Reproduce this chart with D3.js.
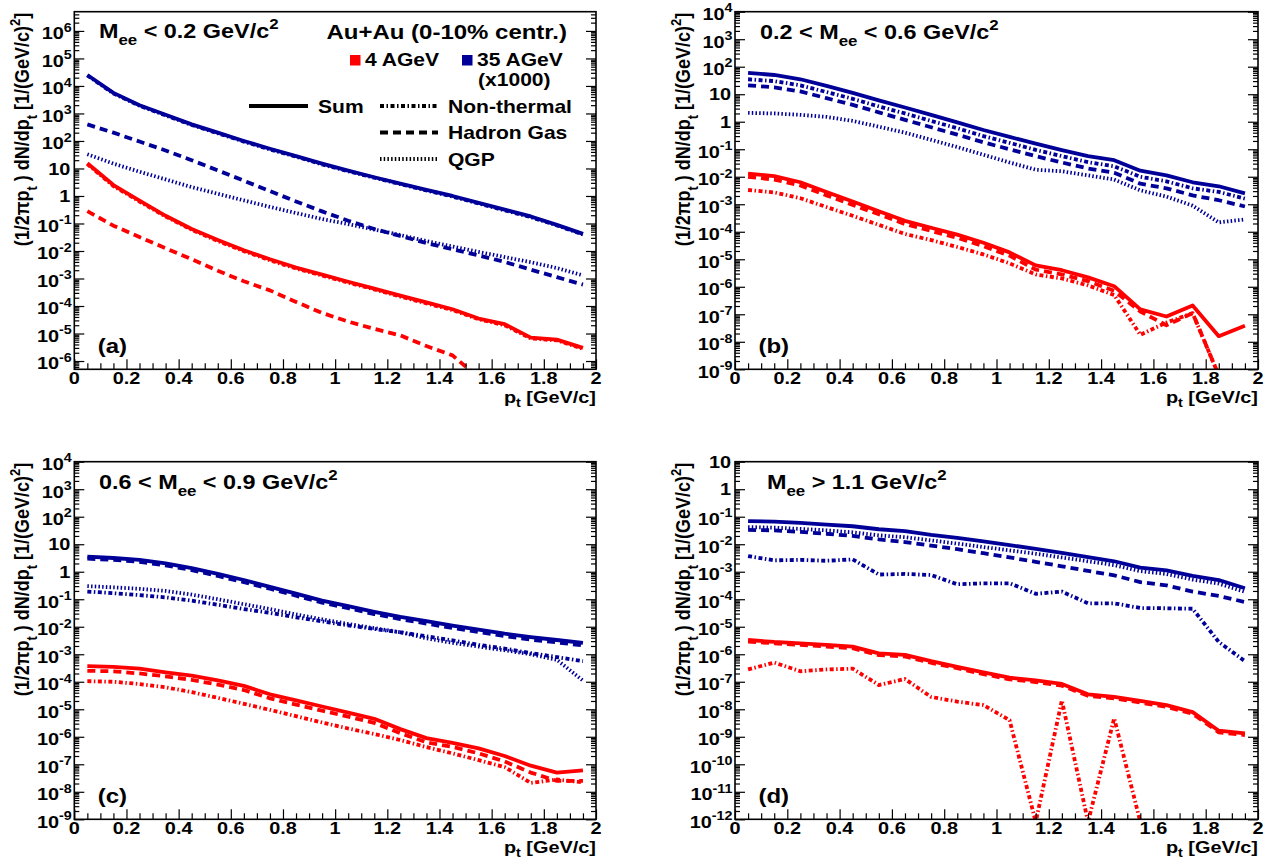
<!DOCTYPE html>
<html><head><meta charset="utf-8">
<script src="https://cdn.jsdelivr.net/npm/d3@7"></script>
<style>
body{margin:0;background:#fff}
svg{display:block;background:#fff}
text{font-family:"Liberation Sans",Arial,Helvetica,sans-serif;font-weight:bold;fill:#000}
</style></head><body>
<svg id="c" width="1264" height="861"></svg>
<script>
// ---------------- data (bin centres in GeV/c) ----------------
const pt = [0.05,0.15,0.25,0.35,0.45,0.55,0.65,0.75,0.85,0.95,1.05,1.15,1.25,1.35,1.45,1.55,1.65,1.75,1.85,1.95];

// (a) Mee < 0.2
const aBlueSum  = [2.5e4,5.6e3,2.0e3,890,400,200,100,52,28,15,8.3,4.8,2.8,1.66,1.0,0.56,0.32,0.18,0.089,0.042];
const aBlueNonTh= [2.4e4,5.3e3,1.9e3,850,380,190,95,49,27,14,7.9,4.6,2.7,1.58,0.95,0.53,0.30,0.17,0.085,0.040];
const aBlueHG   = [400,200,95,45,20,8.5,3.6,1.5,0.63,0.275,0.126,0.063,0.035,0.0195,0.0115,6.9e-3,4.0e-3,2.1e-3,1.12e-3,6.0e-4];
const aBlueQGP  = [33,15,7.6,4.0,2.1,1.2,0.69,0.40,0.24,0.145,0.095,0.06,0.038,0.023,0.0145,9.3e-3,6.0e-3,3.9e-3,2.4e-3,1.3e-3];
const aRedSum   = [15.5,2.5,0.68,0.19,0.063,0.025,0.0107,5.0e-3,2.5e-3,1.38e-3,7.6e-4,4.3e-4,2.4e-4,1.35e-4,7.6e-5,3.5e-5,2.2e-5,7.1e-6,6.0e-6,3.0e-6];
const aRedNonTh = [14.4,2.3,0.63,0.18,0.059,0.023,0.0099,4.6e-3,2.3e-3,1.28e-3,7.1e-4,4.0e-4,2.2e-4,1.25e-4,7.1e-5,3.3e-5,2.0e-5,6.6e-6,5.6e-6,2.8e-6];
const aRedHG    = [0.28,0.083,0.032,0.0126,5.0e-3,1.9e-3,7.9e-4,3.7e-4,1.41e-4,5.6e-5,2.7e-5,1.48e-5,8.5e-6,3.5e-6,1.6e-6,2.5e-7,null,null,null,null];

// (b) 0.2 < Mee < 0.6
const bBlueSum  = [60,50,35,20,11.2,6.0,3.3,1.78,0.95,0.5,0.28,0.16,0.093,0.056,0.04,0.0166,0.0112,6.3e-3,4.5e-3,2.5e-3];
const bBlueNonTh= [35,30,21,12,6.8,3.6,2.0,1.07,0.58,0.30,0.17,0.095,0.056,0.034,0.024,0.010,6.8e-3,3.8e-3,2.8e-3,1.6e-3];
const bBlueHG   = [21,17.8,12.6,7.2,4.1,2.2,1.17,0.63,0.34,0.178,0.10,0.056,0.033,0.020,0.014,5.6e-3,3.8e-3,2.1e-3,1.4e-3,8.3e-4];
const bBlueQGP  = [2.1,2.0,1.78,1.5,1.07,0.66,0.40,0.22,0.12,0.063,0.033,0.018,0.0158,0.0112,7.9e-3,3.2e-3,1.9e-3,8.9e-4,2.2e-4,2.8e-4];
const bRedSum   = [1.3e-2,1.05e-2,6.3e-3,2.8e-3,1.26e-3,5.6e-4,2.5e-4,1.4e-4,7.9e-5,4.0e-5,1.78e-5,6.0e-6,4.0e-6,2.2e-6,1.05e-6,1.5e-7,8.3e-8,2.1e-7,1.6e-8,3.8e-8];
const bRedNonTh = [3.3e-3,2.7e-3,1.66e-3,7.9e-4,3.8e-4,1.78e-4,8.3e-5,5.0e-5,2.8e-5,1.5e-5,7.1e-6,2.8e-6,2.0e-6,1.12e-6,5.0e-7,1.8e-8,5.0e-8,1.1e-7,6e-10,null];
const bRedHG    = [1.0e-2,7.9e-3,4.8e-3,2.1e-3,9.5e-4,4.3e-4,1.9e-4,1.07e-4,6.0e-5,3.0e-5,1.35e-5,4.2e-6,2.8e-6,1.6e-6,7.1e-7,1.26e-7,4.0e-8,1.1e-7,6e-10,null];

// (c) 0.6 < Mee < 0.9
const cBlueSum  = [3.55,3.16,2.7,2.0,1.35,0.83,0.5,0.28,0.16,0.089,0.056,0.035,0.023,0.016,0.011,7.9e-3,5.6e-3,4.2e-3,3.3e-3,2.6e-3];
const cBlueHG   = [3.0,2.7,2.3,1.7,1.15,0.70,0.42,0.24,0.135,0.075,0.047,0.029,0.019,0.013,9.0e-3,6.5e-3,4.6e-3,3.4e-3,2.7e-3,2.1e-3];
const cBlueQGP  = [0.30,0.27,0.24,0.20,0.148,0.10,0.066,0.044,0.028,0.0186,0.0126,8.9e-3,6.3e-3,3.8e-3,2.6e-3,1.9e-3,1.4e-3,1.0e-3,6.3e-4,1.1e-4];
const cBlueNonTh= [0.19,0.166,0.141,0.117,0.089,0.063,0.044,0.032,0.022,0.0158,0.0112,8.3e-3,6.3e-3,4.5e-3,3.2e-3,2.2e-3,1.6e-3,1.1e-3,7.9e-4,5.6e-4];
const cRedSum   = [3.7e-4,3.5e-4,3.0e-4,2.2e-4,1.66e-4,1.12e-4,7.1e-5,3.5e-5,2.1e-5,1.26e-5,7.6e-6,4.5e-6,1.9e-6,8.9e-7,6.0e-7,3.8e-7,2.0e-7,8.9e-8,5.0e-8,6.0e-8];
const cRedHG    = [2.5e-4,2.4e-4,2.0e-4,1.58e-4,1.17e-4,7.9e-5,5.0e-5,2.5e-5,1.48e-5,8.9e-6,5.4e-6,3.2e-6,1.35e-6,6.3e-7,4.3e-7,2.5e-7,1.26e-7,5.0e-8,2.5e-8,2.5e-8];
const cRedNonTh = [1.05e-4,1.0e-4,8.3e-5,6.3e-5,4.2e-5,2.6e-5,1.58e-5,9.5e-6,5.6e-6,3.3e-6,2.0e-6,1.26e-6,7.6e-7,4.2e-7,2.5e-7,1.41e-7,7.9e-8,2.1e-8,2.8e-8,2.2e-8];

// (d) Mee > 1.1
const dBlueSum  = [0.069,0.066,0.060,0.052,0.045,0.035,0.030,0.022,0.017,0.0126,9.3e-3,6.8e-3,4.8e-3,3.4e-3,2.4e-3,1.41e-3,1.12e-3,7.1e-4,5.0e-4,2.5e-4];
const dBlueQGP  = [0.042,0.040,0.036,0.032,0.027,0.021,0.018,0.0138,0.0105,7.9e-3,6.0e-3,4.5e-3,3.3e-3,2.4e-3,1.74e-3,1.05e-3,8.3e-4,5.2e-4,3.7e-4,1.86e-4];
const dBlueHG   = [0.033,0.032,0.028,0.024,0.020,0.015,0.012,8.9e-3,6.6e-3,4.7e-3,3.3e-3,2.3e-3,1.58e-3,1.07e-3,7.4e-4,4.2e-4,3.2e-4,1.9e-4,1.32e-4,7.9e-5];
const dBlueNonTh= [3.7e-3,2.6e-3,2.7e-3,2.5e-3,2.8e-3,7.9e-4,8.3e-4,7.6e-4,3.5e-4,3.8e-4,3.8e-4,1.58e-4,1.9e-4,7.1e-5,7.1e-5,4.8e-5,4.7e-5,4.5e-5,2.8e-6,5.6e-7];
const dRedSum   = [3.3e-6,2.8e-6,2.5e-6,2.2e-6,1.9e-6,1.07e-6,9.5e-7,5.6e-7,3.5e-7,2.2e-7,1.41e-7,1.12e-7,8.3e-8,3.5e-8,2.8e-8,2.0e-8,1.41e-8,7.9e-9,1.66e-9,1.32e-9];
const dRedHG    = [2.9e-6,2.5e-6,2.2e-6,1.9e-6,1.65e-6,9.3e-7,8.3e-7,4.9e-7,3.1e-7,1.9e-7,1.23e-7,9.8e-8,7.2e-8,3.1e-8,2.5e-8,1.75e-8,1.23e-8,6.9e-9,1.45e-9,1.15e-9];
const dRedNonTh = [2.8e-7,5.0e-7,2.4e-7,2.8e-7,3.0e-7,7.6e-8,1.26e-7,2.8e-8,1.9e-8,1.41e-8,4.0e-9,8e-13,2.1e-8,8e-13,4.7e-9,8e-13,null,null,null,null];

const xTicks = [0,0.2,0.4,0.6,0.8,1,1.2,1.4,1.6,1.8,2];
const xTickLabels = ["0","0.2","0.4","0.6","0.8","1","1.2","1.4","1.6","1.8","2"];
const legendComponents = ["Sum","Non-thermal","Hadron Gas","QGP"];
const legendEnergies = ["4 AGeV","35 AGeV"];

// ---------------- style ----------------
const RED = "#ff0000", BLUE = "#000099";
const LW = 3.8;
const SX = 1.17;   // horizontal stretch of the lettering
const DASH = {sum:null, nonth:"4 2.5 1.5 2.5", hg:"8 5", qgp:"1.5 2.2"};

const svg = d3.select("#c");

function rich(sel, parts, size, subShift){
  let cur = 0;
  const ss = subShift || 0.36;
  parts.forEach(p => {
    const t = typeof p === "string" ? p : p[0];
    const m = typeof p === "string" ? 0 : (p[1]||0);
    const fs = m ? size*0.72 : size;
    const target = m===1 ? size*ss : (m===2 ? -size*0.45 : 0);
    sel.append("tspan").attr("dy", (target-cur).toFixed(2)).attr("font-size", fs).text(t);
    cur = target;
  });
  return sel;
}
function label(x,y,parts,size,anchor,subShift){
  const t = svg.append("text").attr("transform",`translate(${x},${y}) scale(${SX},1)`)
    .attr("text-anchor",anchor||"start").attr("font-size",size);
  return rich(t, parts, size, subShift);
}

const panels = [
  {tag:"(a)", x0:74.3, x1:596, y0:11.7, y1:369.3, ymin:5e-7, ymax:5e6,
   title:[["M"],["ee",1],[" < 0.2 GeV/c"],["2",2]], tx:99, ty:37.5,
   lines:[
     [aBlueSum,BLUE,"sum"],[aBlueNonTh,BLUE,"nonth"],[aBlueHG,BLUE,"hg"],[aBlueQGP,BLUE,"qgp"],
     [aRedSum,RED,"sum"],[aRedNonTh,RED,"nonth"],[aRedHG,RED,"hg"]]},
  {tag:"(b)", x0:735, x1:1258, y0:11.7, y1:369.3, ymin:1e-9, ymax:1e4,
   title:[["0.2 < M"],["ee",1],[" < 0.6 GeV/c"],["2",2]], tx:760, ty:38.5,
   lines:[
     [bBlueSum,BLUE,"sum"],[bBlueNonTh,BLUE,"nonth"],[bBlueHG,BLUE,"hg"],[bBlueQGP,BLUE,"qgp"],
     [bRedSum,RED,"sum"],[bRedNonTh,RED,"nonth"],[bRedHG,RED,"hg"]]},
  {tag:"(c)", x0:74.3, x1:596, y0:461.7, y1:819.3, ymin:1e-9, ymax:1e4,
   title:[["0.6 < M"],["ee",1],[" < 0.9 GeV/c"],["2",2]], tx:99, ty:489,
   lines:[
     [cBlueSum,BLUE,"sum"],[cBlueHG,BLUE,"hg"],[cBlueQGP,BLUE,"qgp"],[cBlueNonTh,BLUE,"nonth"],
     [cRedSum,RED,"sum"],[cRedHG,RED,"hg"],[cRedNonTh,RED,"nonth"]]},
  {tag:"(d)", x0:735, x1:1258, y0:461.7, y1:819.3, ymin:1e-12, ymax:10,
   title:[["M"],["ee",1],[" > 1.1 GeV/c"],["2",2]], tx:767, ty:489,
   lines:[
     [dBlueSum,BLUE,"sum"],[dBlueQGP,BLUE,"qgp"],[dBlueHG,BLUE,"hg"],[dBlueNonTh,BLUE,"nonth"],
     [dRedSum,RED,"sum"],[dRedHG,RED,"hg"],[dRedNonTh,RED,"nonth"]]}
];

const TICK_FS = 17;

panels.forEach((P,i) => {
  const x = d3.scaleLinear().domain([0,2]).range([P.x0,P.x1]);
  const y = d3.scaleLog().domain([P.ymin,P.ymax]).range([P.y1,P.y0]);
  const g = svg.append("g");
  const clipId = "clip"+i;
  svg.append("clipPath").attr("id",clipId).append("rect")
    .attr("x",P.x0).attr("y",P.y0).attr("width",P.x1-P.x0).attr("height",P.y1-P.y0);

  // curves
  const line = d3.line().defined(d => d[1]!=null).x(d => x(d[0])).y(d => y(d[1]));
  const cg = g.append("g").attr("clip-path",`url(#${clipId})`);
  P.lines.forEach(([vals,col,sty]) => {
    const pts = pt.map((p,k)=>[p, vals[k]===undefined?null:vals[k]]);
    cg.append("path").attr("d", line(pts)).attr("fill","none")
      .attr("stroke",col).attr("stroke-width",LW).attr("stroke-linejoin","round")
      .attr("stroke-dasharray", DASH[sty]);
  });

  // y ticks (both sides, pointing inward)
  const lo = Math.ceil(Math.log10(P.ymin)-1e-9), hi = Math.floor(Math.log10(P.ymax)+1e-9);
  const majors = d3.range(lo,hi+1).map(e => Math.pow(10,e));
  const minors = [];
  for (let e=lo-1; e<=hi; e++) for (let k=2;k<=9;k++){ const v=k*Math.pow(10,e); if(v>P.ymin&&v<P.ymax) minors.push(v); }
  const tickStyle = s => s.select(".domain").remove();
  g.append("g").attr("transform",`translate(${P.x0},0)`).call(d3.axisLeft(y).tickValues(majors).tickSize(-10).tickFormat("")).call(tickStyle);
  g.append("g").attr("transform",`translate(${P.x0},0)`).call(d3.axisLeft(y).tickValues(minors).tickSize(-5).tickFormat("")).call(tickStyle);
  g.append("g").attr("transform",`translate(${P.x1},0)`).call(d3.axisRight(y).tickValues(majors).tickSize(-10).tickFormat("")).call(tickStyle);
  g.append("g").attr("transform",`translate(${P.x1},0)`).call(d3.axisRight(y).tickValues(minors).tickSize(-5).tickFormat("")).call(tickStyle);
  // x ticks
  const xMinor = d3.range(0,2.0001,0.05).filter(v => Math.abs(v/0.2-Math.round(v/0.2))>1e-6);
  g.append("g").attr("transform",`translate(0,${P.y1})`).call(d3.axisBottom(x).tickValues(xTicks).tickSize(-10).tickFormat("")).call(tickStyle);
  g.append("g").attr("transform",`translate(0,${P.y1})`).call(d3.axisBottom(x).tickValues(xMinor).tickSize(-6).tickFormat("")).call(tickStyle);
  g.selectAll(".tick line").attr("stroke","#000").attr("stroke-width",1.2);

  // frame
  g.append("rect").attr("x",P.x0).attr("y",P.y0).attr("width",P.x1-P.x0).attr("height",P.y1-P.y0)
    .attr("fill","none").attr("stroke","#000").attr("stroke-width",1.6);

  // y labels
  majors.forEach(v => {
    const e = Math.round(Math.log10(v));
    const yy = y(v);
    if (e===0) label(P.x0-4, yy+6.2, ["1"], TICK_FS, "end");
    else if (e===1) label(P.x0-4, yy+6.2, ["10"], TICK_FS, "end");
    else label(P.x0-2.5, yy+8.4, ["10",[String(e),2]], TICK_FS, "end");
  });
  // x labels
  xTicks.forEach((v,k) => label(x(v), P.y1+14.5, [xTickLabels[k]], TICK_FS, "middle"));

  // axis titles
  label(P.x1, P.y1+33.6, ["p",["t",1],["  [GeV/c]"]], 17, "end", 0.25);
  const yt = svg.append("text").attr("text-anchor","end").attr("font-size",18)
    .attr("transform",`translate(${P.x0-45},${P.y0+1}) scale(${SX},1) rotate(-90)`);
  rich(yt, ["(1/2","\u03c0","p",["t",1]," ) dN/dp",["t",1],"  [1/(GeV/c)",["2",2],"]"], 18);

  // panel title & tag
  label(P.tx, P.ty, P.title, 20, "start");
  label(P.x0+23.5, P.y1-16.8, [P.tag], 20.5, "start");
});

// ---------------- legend (panel a) ----------------
label(567, 38.5, ["Au+Au (0-10% centr.)"], 20.5, "end");
svg.append("rect").attr("x",350).attr("y",55).attr("width",10.5).attr("height",10.5).attr("fill",RED);
label(365, 65.5, [legendEnergies[0]], 18, "start");
svg.append("rect").attr("x",462).attr("y",55).attr("width",10.5).attr("height",10.5).attr("fill",BLUE);
label(477, 65.5, [legendEnergies[1]], 18, "start");
label(478, 86, ["(x1000)"], 18, "start");

const legRows = [
  {x1:249, x2:308, y:106, sty:"sum", tx:318, name:legendComponents[0]},
  {x1:380, x2:438, y:106, sty:"nonth", tx:448, name:legendComponents[1]},
  {x1:380, x2:438, y:132.5, sty:"hg", tx:448, name:legendComponents[2]},
  {x1:380, x2:438, y:159, sty:"qgp", tx:448, name:legendComponents[3]}
];
legRows.forEach(r => {
  svg.append("line").attr("x1",r.x1).attr("x2",r.x2).attr("y1",r.y).attr("y2",r.y)
    .attr("stroke","#000").attr("stroke-width",LW).attr("stroke-dasharray",DASH[r.sty]);
  label(r.tx, r.y+6.5, [r.name], 18, "start");
});
</script>
</body></html>
